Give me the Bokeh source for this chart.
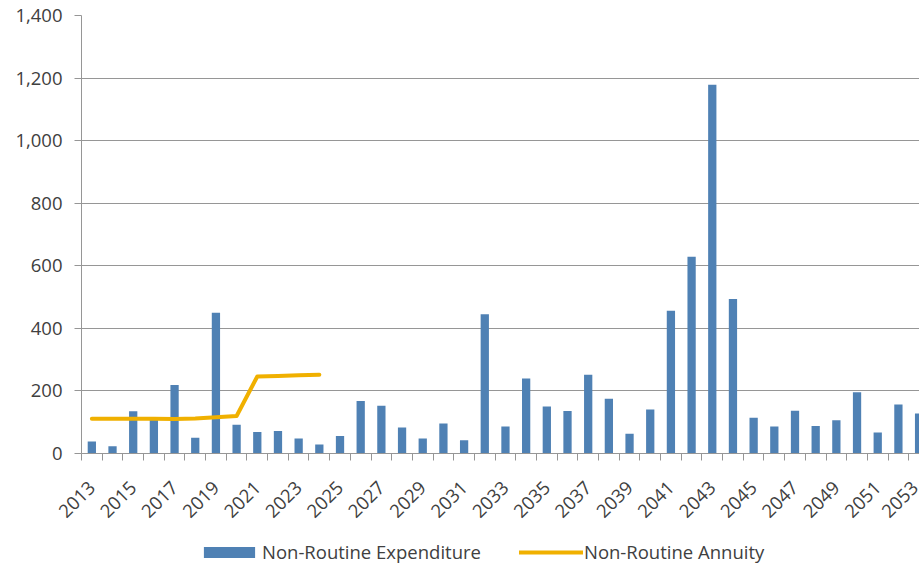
import math
from bokeh.plotting import figure
from bokeh.layouts import column
from bokeh.models import Range1d, FixedTicker, NumeralTickFormatter, Legend, LegendItem
from bokeh.embed import file_html
from bokeh.resources import INLINE

years = list(range(2013, 2054))
expenditure = [38, 23, 135, 116, 219, 50, 450, 92, 69, 72, 48, 29, 56, 168,
               153, 83, 48, 96, 42, 445, 86, 240, 150, 136, 252, 175, 63,
               141, 456, 629, 1179, 494, 114, 86, 137, 88, 106, 196, 67, 157, 128]
annuity_years = list(range(2013, 2025))
annuity = [111, 111, 111, 111, 110, 112, 116, 120, 246, 248, 250, 252]
x_tick_years = years[::2]
y_ticks = [0, 200, 400, 600, 800, 1000, 1200, 1400]
series_names = ["Non-Routine Expenditure", "Non-Routine Annuity"]

FONT = "Open Sans"
TXT = "#404040"
GRID = "#969696"
BAR = "#4F81B4"
GOLD = "#F0B000"

p = figure(width=919, height=526, output_backend="svg", toolbar_location=None,
           x_range=Range1d(2012.5, 2053.02), y_range=Range1d(0, 1400),
           min_border_left=81, min_border_right=0, min_border_top=15, min_border_bottom=73)
p.outline_line_color = None
p.background_fill_color = "white"
p.border_fill_color = "white"

bars = p.vbar(x=years, top=expenditure, width=0.4, fill_color=BAR, line_color=None)
line = p.line(x=annuity_years, y=annuity, line_color=GOLD, line_width=4, line_cap="round", line_join="round")

# axes
xa = p.xaxis[0]
xa.ticker = FixedTicker(ticks=x_tick_years, minor_ticks=[y - 0.5 for y in years] + [years[-1] + 0.5])
xa.major_label_overrides = {y: str(y) for y in x_tick_years}
xa.major_label_orientation = math.pi / 4
xa.major_tick_line_color = None
xa.major_tick_out = 0
xa.major_tick_in = 0
xa.minor_tick_out = 7
xa.minor_tick_in = 0
xa.minor_tick_line_color = GRID
xa.axis_line_color = GRID
xa.major_label_text_font = FONT
xa.major_label_text_font_size = "18.5px"
xa.major_label_text_color = TXT
xa.major_label_standoff = 24

ya = p.yaxis[0]
ya.ticker = FixedTicker(ticks=y_ticks)
ya.formatter = NumeralTickFormatter(format="0,0")
ya.major_tick_out = 7
ya.major_tick_in = 0
ya.minor_tick_line_color = None
ya.major_tick_line_color = GRID
ya.axis_line_color = GRID
ya.major_label_text_font = FONT
ya.major_label_text_font_size = "18.5px"
ya.major_label_text_color = TXT
ya.major_label_standoff = 12

p.xgrid.grid_line_color = None
p.ygrid.grid_line_color = GRID
p.ygrid.grid_line_width = 1

# legend strip below the chart (its renderers share the series, drawn outside its view)
lf = figure(width=919, height=38, output_backend="svg", toolbar_location=None,
            x_range=Range1d(0, 1), y_range=Range1d(-1, 0),
            x_axis_location=None, y_axis_location=None,
            min_border_left=81, min_border_right=0, min_border_top=0, min_border_bottom=0)
lf.outline_line_color = None
lf.xgrid.grid_line_color = None
lf.ygrid.grid_line_color = None
lb = lf.vbar(x=years, top=expenditure, width=0.4, fill_color=BAR, line_color=None)
ll = lf.line(x=annuity_years, y=annuity, line_color=GOLD, line_width=4, line_cap="round")

legend = Legend(items=[LegendItem(label=series_names[0], renderers=[lb]),
                       LegendItem(label=series_names[1], renderers=[ll])],
                orientation="horizontal", location=(116, 0), padding=0, margin=0, spacing=38,
                border_line_color=None, background_fill_alpha=0,
                glyph_width=64, glyph_height=14, label_standoff=1, label_height=22,
                label_text_font=FONT, label_text_font_size="18.5px", label_text_color=TXT)
lf.add_layout(legend, "center")

layout = column(p, lf, spacing=0)
open("out.html", "w").write(file_html(layout, INLINE))
